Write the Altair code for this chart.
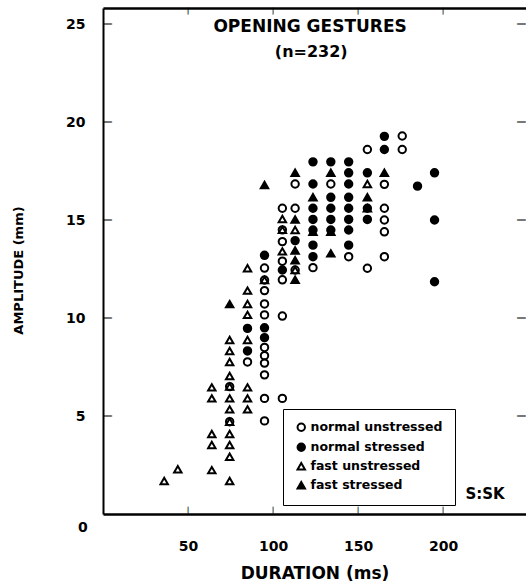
import altair as alt
import pandas as pd

CATS = ["normal unstressed", "normal stressed", "fast unstressed", "fast stressed"]

# normal unstressed (open circles)
nu_dur = [74.5, 74.5, 85,
          95, 95, 95, 95, 95, 95, 95, 95, 95, 95, 95,
          105.5, 105.5, 105.5, 105.5, 105.5, 105.5, 105.5,
          113, 113, 113, 123.5, 134, 144.5, 155.5, 155.5,
          165.5, 165.5, 165.5, 165.5, 165.5, 176, 176]
nu_amp = [6.5, 4.71, 7.76,
          12.55, 11.94, 11.4, 10.72, 10.16, 8.5, 8.08, 7.7, 7.1, 5.9, 4.75,
          15.6, 14.5, 13.9, 12.9, 11.95, 10.1, 5.9,
          16.84, 15.6, 12.45, 12.57, 16.84, 13.13, 18.6, 12.54,
          16.82, 15.6, 15.0, 14.4, 13.13, 19.29, 18.6]

# normal stressed (filled circles)
ns_dur = [85, 85, 95, 95, 95, 105.5, 113,
          123.5, 123.5, 123.5, 123.5, 123.5, 123.5, 123.5,
          134, 134, 134, 134, 134,
          144.5, 144.5, 144.5, 144.5, 144.5, 144.5, 144.5, 144.5,
          155.5, 155.5, 155.5, 165.5, 165.5, 185, 195, 195, 195]
ns_amp = [9.47, 8.32, 13.2, 9.5, 9.0, 12.45, 13.95,
          17.97, 16.84, 15.6, 15.03, 14.49, 13.72, 13.13,
          17.97, 16.16, 15.6, 15.03, 14.49,
          17.97, 17.41, 16.84, 16.16, 15.6, 15.03, 14.49, 13.72,
          17.41, 15.6, 15.03, 19.27, 18.6, 16.73, 17.41, 15.0, 11.85]

# fast unstressed (open triangles)
fu_dur = [36, 44, 64, 64, 64, 64, 64,
          74.5, 74.5, 74.5, 74.5, 74.5, 74.5, 74.5, 74.5, 74.5, 74.5, 74.5, 74.5,
          85, 85, 85, 85, 85, 85, 85, 85,
          95, 105.5, 105.5, 105.5, 113, 113, 155.5]
fu_amp = [1.68, 2.28, 6.46, 5.9, 4.08, 3.52, 2.24,
          8.88, 8.32, 7.76, 7.04, 6.5, 5.9, 5.34, 4.71, 4.08, 3.52, 2.92, 1.68,
          12.54, 11.4, 10.72, 10.16, 8.88, 6.46, 5.9, 5.34,
          11.94, 15.05, 14.5, 13.4, 14.49, 12.45, 16.84]

# fast stressed (filled triangles)
fs_dur = [74.5, 95, 113, 113, 113, 113, 113, 123.5, 123.5,
          134, 134, 134, 155.5, 155.5, 165.5]
fs_amp = [10.71, 16.79, 17.41, 15.03, 13.45, 12.95, 11.95, 16.16, 14.4,
          17.41, 14.4, 13.3, 16.16, 15.6, 17.41]

x_ticks = [50, 100, 150, 200]
y_ticks = [5, 10, 15, 20, 25]

frames = []
for cat, d, a in zip(CATS, [nu_dur, ns_dur, fu_dur, fs_dur], [nu_amp, ns_amp, fu_amp, fs_amp]):
    frames.append(pd.DataFrame({"dur": d, "amp": a, "cond": cat}))
df = pd.concat(frames, ignore_index=True)

W, H = 423, 506
X_MAX, Y_MAX = 248.8, 25.82
PX_X = X_MAX / W      # data units per pixel
PX_Y = Y_MAX / H
F = "DejaVu Sans"
xs = alt.Scale(domain=[0, X_MAX], nice=False, zero=False)
ys = alt.Scale(domain=[0, Y_MAX], nice=False, zero=False)

bottom_axis = alt.Axis(values=x_ticks, grid=False, domainColor="black", domainWidth=2.5,
                       ticks=False,
                       labelFont=F, labelFontSize=14, labelFontWeight="bold", labelColor="black",
                       labelPadding=25,
                       title="DURATION (ms)", titleFont=F, titleFontSize=17, titleFontWeight="bold",
                       titleColor="black", titleY=59, titleBaseline="middle")
left_axis = alt.Axis(values=y_ticks, grid=False, domainColor="black", domainWidth=2,
                     ticks=False,
                     labelFont=F, labelFontSize=14, labelFontWeight="bold", labelColor="black",
                     labelPadding=18,
                     title="AMPLITUDE (mm)", titleFont=F, titleFontSize=13, titleFontWeight="bold",
                     titleColor="black", titleX=-85, titleY=262, titleBaseline="middle", titleAngle=270)
top_axis = alt.Axis(values=x_ticks, grid=False, orient="top", labels=False, ticks=False,
                    domainColor="black", domainWidth=2.5, title="")

leg = alt.Legend(orient="none", legendX=180, legendY=401, title=None,
                 strokeColor="black", fillColor="white", padding=12,
                 labelFont=F, labelFontSize=12.5, labelFontWeight="bold", labelColor="black",
                 labelOffset=3, rowPadding=4, symbolStrokeWidth=2,
                 symbolSize=55)

points = alt.Chart(df).mark_point(filled=True, strokeWidth=2, size=55, opacity=1).encode(
    x=alt.X("dur:Q", scale=xs, axis=bottom_axis),
    y=alt.Y("amp:Q", scale=ys, axis=left_axis),
    shape=alt.Shape("cond:N", scale=alt.Scale(domain=CATS, range=["circle", "circle", "triangle-up", "triangle-up"]), legend=leg),
    fill=alt.Fill("cond:N", scale=alt.Scale(domain=CATS, range=["transparent", "black", "transparent", "black"]), legend=leg),
    stroke=alt.Stroke("cond:N", scale=alt.Scale(domain=CATS, range=["black", "black", "black", "black"]), legend=leg),
)


def label(text, x, y, size, axis_x=None, angle=0, baseline="middle", key=""):
    return alt.Chart(pd.DataFrame({"label": [text], "key": [key]})).mark_text(
        font=F, fontSize=size, fontWeight="bold", color="black", align="center",
        baseline=baseline, angle=angle
    ).encode(
        text="label:N",
        x=alt.XDatum(x, scale=xs, axis=axis_x),
        y=alt.YDatum(y, scale=ys, axis=None),
    )


t1 = label("OPENING GESTURES", 121.8, 24.85, 17, top_axis)
t2 = label("(n=232)", 122.5, 23.57, 16)
t3 = label("S:SK", 224.7, 1.02, 15)
t4 = label("0", -11.8, -0.71, 14)

# inward tick marks on all four sides, drawn as short bar glyphs placed through the scales
tick_layers = []
for v in x_ticks:
    tick_layers.append(label("|", v, 1.65 * PX_Y, 7, baseline="alphabetic", key=f"b{v}"))
    tick_layers.append(label("|", v, Y_MAX - 5.3 * PX_Y, 7, baseline="alphabetic", key=f"t{v}"))
for v in y_ticks:
    tick_layers.append(label("|", 1.9 * PX_X, v, 8, angle=90, baseline="alphabetic", key=f"l{v}"))
    tick_layers.append(label("|", X_MAX - 1.9 * PX_X, v, 8, angle=270, baseline="alphabetic", key=f"r{v}"))

chart = alt.layer(points, t1, t2, t3, t4, *tick_layers).resolve_scale(
    x="independent", y="independent"
).properties(
    width=W, height=H,
    padding={"left": 103, "top": 8, "right": 0, "bottom": 70},
    autosize=alt.AutoSizeParams(type="none"),
    background="white",
).configure_view(strokeWidth=0)

chart.save("out.html", embed_options={"renderer": "svg", "actions": False})
